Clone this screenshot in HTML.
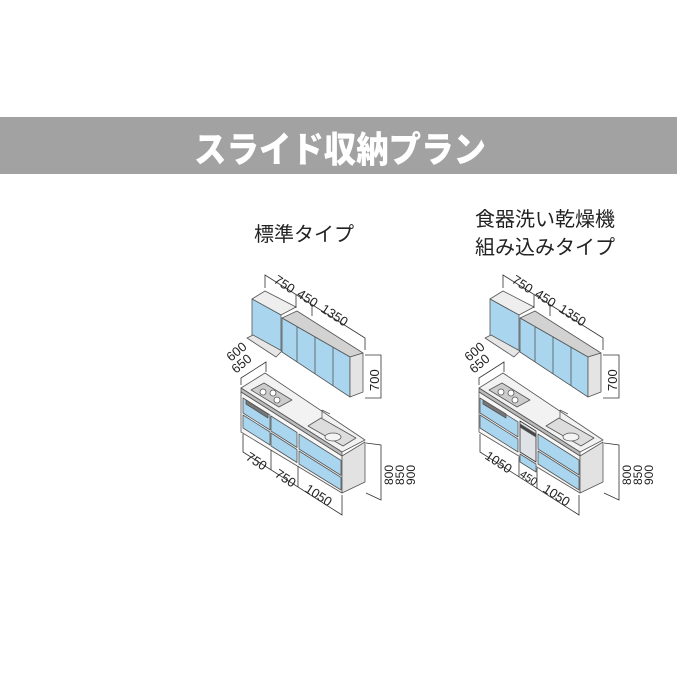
<!DOCTYPE html>
<html><head><meta charset="utf-8"><style>
html,body{margin:0;padding:0;background:#fff;}
body{width:680px;height:680px;overflow:hidden;position:relative;font-family:"Liberation Sans","Noto Sans CJK JP",sans-serif;}
</style></head><body>
<svg width="680" height="680" viewBox="0 0 680 680" xmlns="http://www.w3.org/2000/svg" style="position:absolute;left:0;top:0">
<rect x="0" y="117" width="677" height="57" fill="#a2a2a2"/>
<text x="340" y="162" text-anchor="middle" font-family="'Noto Sans CJK JP',sans-serif" font-weight="900" font-size="36" fill="#fff" textLength="292" lengthAdjust="spacingAndGlyphs">スライド収納プラン</text>
<g font-family="'Noto Sans CJK JP',sans-serif" font-size="20" fill="#222" text-anchor="middle">
<text x="304" y="241">標準タイプ</text>
<text x="545" y="226">食器洗い乾燥機</text>
<text x="545" y="254">組み込みタイプ</text>
</g>

<!-- LEFT -->
<g stroke="#555" stroke-width="0.8" stroke-linejoin="round">
<polygon points="252,299 265,291 296,307 281,315" fill="#eee"/>
<polygon points="252,299 281,315 281,351 252,338" fill="#a9d6ee"/>
<polygon points="282,318 297,311 363,353 350,357" fill="#d2d2d2"/>
<polygon points="282,318 350,357 350,397 282,352" fill="#a9d6ee"/>
<polygon points="350,357 363,353 363,392 350,397" fill="#e4e4e4"/>
<line x1="297" y1="327" x2="297" y2="362"/><line x1="315" y1="337" x2="315" y2="374"/><line x1="333" y1="347" x2="333" y2="386"/>
<polygon points="247,338 253,335 282,351 276,357" fill="#e6e6e6"/>
<polygon points="241,388 265,373 365,440 342,452" fill="#f2f2f2"/>
<polygon points="241,388 342,452 342,456 241,392" fill="#bbb"/>
<polygon points="241,392 342,456 342,493 241,432" fill="#f7f7f7"/>
<polygon points="342,456 365,442 365,482 342,493" fill="#e2e2e2"/>
<polygon points="251,390 264,383 292,400 279,407" fill="#ccc"/>
<circle cx="263" cy="392" r="3" fill="#fff"/><circle cx="273" cy="393" r="3" fill="#fff"/><circle cx="277" cy="400" r="3" fill="#fff"/>
<polygon points="308,426 321,418 356,438 343,446" fill="#ddd"/>
<ellipse cx="333" cy="437" rx="8" ry="4" fill="#f4f4f4"/>
<line x1="322" y1="418" x2="322" y2="410"/><line x1="322" y1="410" x2="330" y2="414"/>
<polygon points="243,398 270,415 270,430 243,413" fill="#a9d6ee"/>
<polygon points="243,415 270,432 270,445 243,428" fill="#a9d6ee"/>
<polygon points="271,416 297,432.5 297,447.5 271,431" fill="#a9d6ee"/>
<polygon points="271,433 297,449.5 297,462.5 271,446" fill="#a9d6ee"/>
<polygon points="299,434 341,460.4 341,475.4 299,449" fill="#a9d6ee"/>
<polygon points="299,451 341,477.4 341,490 299,464" fill="#a9d6ee"/>
<polygon points="246,400 268,414 268,418 246,404" fill="#777"/>
</g>
<g stroke="#333" stroke-width="0.8" fill="none">
<polyline points="265,288 265,275 365,338 365,350"/>
<line x1="296" y1="295" x2="296" y2="308"/><line x1="312" y1="305" x2="312" y2="316"/>
<polyline points="365,355 381,355 381,398 365,398"/>
<polyline points="241,385 241,378 266,362 266,372"/>
<polyline points="243,434 243,452 342,515 342,495"/>
<line x1="271" y1="450" x2="271" y2="470"/><line x1="298" y1="466" x2="298" y2="487"/>
<polyline points="366,443 381,445 381,500 366,493"/>
</g>
<g font-family="'Liberation Sans',sans-serif" font-size="13" fill="#222">
<text transform="translate(273,282) rotate(33)">750</text>
<text transform="translate(296,296) rotate(33)">450</text>
<text transform="translate(320,311) rotate(33)">1350</text>
<text transform="translate(231,362) rotate(-40)">600</text>
<text transform="translate(236,374) rotate(-40)">650</text>
<text transform="translate(379,391) rotate(-90)">700</text>
<text transform="translate(245,459) rotate(33)">750</text>
<text transform="translate(274,476) rotate(33)">750</text>
<text transform="translate(304,491) rotate(33)">1050</text>
<text transform="translate(393,485) rotate(-90)" font-size="12">800</text>
<text transform="translate(404,485) rotate(-90)" font-size="12">850</text>
<text transform="translate(415,485) rotate(-90)" font-size="12">900</text>
</g>

<!-- RIGHT -->
<g transform="translate(238,0)">
<g stroke="#555" stroke-width="0.8" stroke-linejoin="round">
<polygon points="252,299 265,291 296,307 281,315" fill="#eee"/>
<polygon points="252,299 281,315 281,351 252,338" fill="#a9d6ee"/>
<polygon points="282,318 297,311 363,353 350,357" fill="#d2d2d2"/>
<polygon points="282,318 350,357 350,397 282,352" fill="#a9d6ee"/>
<polygon points="350,357 363,353 363,392 350,397" fill="#e4e4e4"/>
<line x1="297" y1="327" x2="297" y2="362"/><line x1="315" y1="337" x2="315" y2="374"/><line x1="333" y1="347" x2="333" y2="386"/>
<polygon points="247,338 253,335 282,351 276,357" fill="#e6e6e6"/>
<polygon points="241,388 265,373 365,440 342,452" fill="#f2f2f2"/>
<polygon points="241,388 342,452 342,456 241,392" fill="#bbb"/>
<polygon points="241,392 342,456 342,493 241,432" fill="#f7f7f7"/>
<polygon points="342,456 365,442 365,482 342,493" fill="#e2e2e2"/>
<polygon points="251,390 264,383 292,400 279,407" fill="#ccc"/>
<circle cx="263" cy="392" r="3" fill="#fff"/><circle cx="273" cy="393" r="3" fill="#fff"/><circle cx="277" cy="400" r="3" fill="#fff"/>
<polygon points="308,426 321,418 356,438 343,446" fill="#ddd"/>
<ellipse cx="333" cy="437" rx="8" ry="4" fill="#f4f4f4"/>
<line x1="322" y1="418" x2="322" y2="410"/><line x1="322" y1="410" x2="330" y2="414"/>
<polygon points="242,398 280,422 280,437 242,413" fill="#a9d6ee"/>
<polygon points="242,415 280,439 280,452 242,428" fill="#a9d6ee"/>
<polygon points="282,421 298,431 298,462 282,452" fill="#dfe3e8" stroke="#333"/>
<polygon points="282,424 298,434 298,437 282,427" fill="#444"/>
<polygon points="282,454 298,464 298,472 282,462" fill="#a9d6ee"/>
<polygon points="300,434 341,460 341,475 300,449" fill="#a9d6ee"/>
<polygon points="300,451 341,477 341,490 300,464" fill="#a9d6ee"/>
<polygon points="245,400 268,414 268,418 245,404" fill="#777"/>
</g>
<g stroke="#333" stroke-width="0.8" fill="none">
<polyline points="265,288 265,275 365,338 365,350"/>
<line x1="296" y1="295" x2="296" y2="308"/><line x1="312" y1="305" x2="312" y2="316"/>
<polyline points="365,355 381,355 381,398 365,398"/>
<polyline points="241,385 241,378 266,362 266,372"/>
<polyline points="242,434 242,452 341,515 341,495"/>
<line x1="281" y1="457" x2="281" y2="477"/><line x1="299" y1="468" x2="299" y2="489"/>
<polyline points="366,443 381,445 381,500 366,493"/>
</g>
<g font-family="'Liberation Sans',sans-serif" font-size="13" fill="#222">
<text transform="translate(273,282) rotate(33)">750</text>
<text transform="translate(296,296) rotate(33)">450</text>
<text transform="translate(320,311) rotate(33)">1350</text>
<text transform="translate(231,362) rotate(-40)">600</text>
<text transform="translate(236,374) rotate(-40)">650</text>
<text transform="translate(379,391) rotate(-90)">700</text>
<text transform="translate(246,458) rotate(33)">1050</text>
<text transform="translate(281,476) rotate(33)" font-size="11">450</text>
<text transform="translate(304,491) rotate(33)">1050</text>
<text transform="translate(393,485) rotate(-90)" font-size="12">800</text>
<text transform="translate(404,485) rotate(-90)" font-size="12">850</text>
<text transform="translate(415,485) rotate(-90)" font-size="12">900</text>
</g>
</g>
</svg>
</body></html>
